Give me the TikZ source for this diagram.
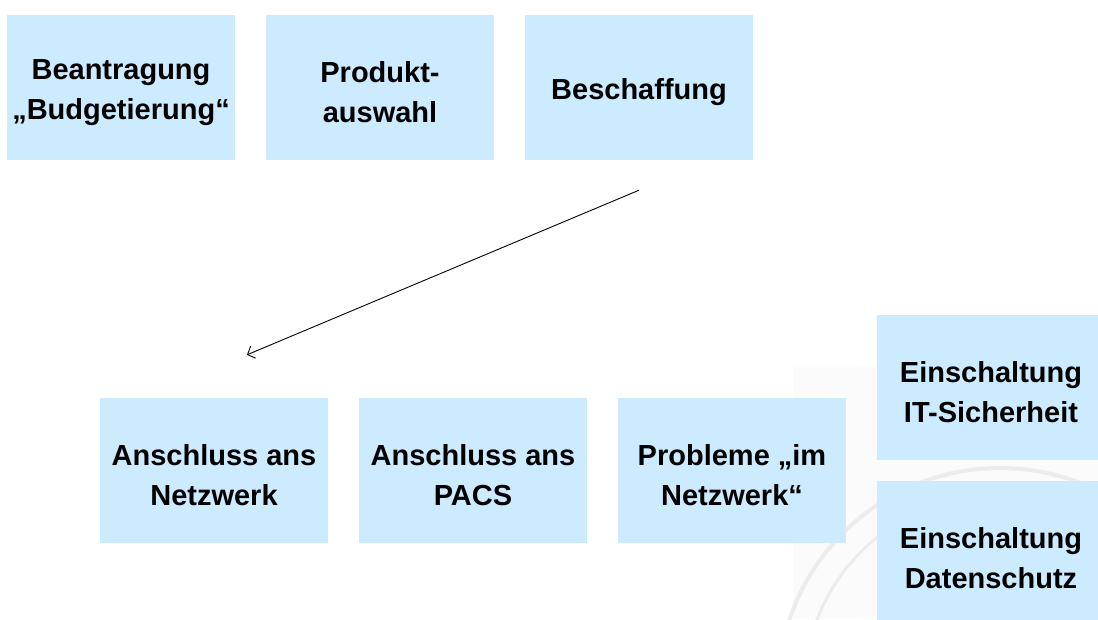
\documentclass[tikz,border=0pt]{standalone}
\usepackage{fontspec}
\setmainfont{Liberation Sans}
\usetikzlibrary{calc,arrows.meta}
\definecolor{boxblue}{RGB}{204,235,255}
\definecolor{sealgray}{RGB}{236,236,236}
\definecolor{hazegray}{RGB}{251,251,251}
% a taller first line pushes each text block a little below the box centre
\newcommand{\firstline}{\rule{0pt}{30pt}}
\tikzset{
  stepbox/.style={fill=boxblue, draw=none, minimum width=228pt, minimum height=145pt,
    inner sep=0pt, align=center,
    font=\fontsize{29pt}{40pt}\selectfont\bfseries},
  flow/.style={draw=black, line width=0.9pt, -{Straight Barb[length=6pt,width=13pt]}}
}
\begin{document}
\begin{tikzpicture}[x=1pt,y=-1pt]
  \useasboundingbox (0,0) rectangle (1098,619);
  \clip (0,0) rectangle (1098,619);
  % faint seal in the lower right corner
  \fill[hazegray] (793,367) rectangle (1098,619);
  \draw[sealgray, line width=4pt] (1000,690) circle[radius=222];
  \draw[sealgray, line width=3pt] (1000,690) circle[radius=196];
  % upper row
  \node[stepbox] (b1) at (121,87.5) {\firstline Beantragung\\„Budgetierung“};
  \node[stepbox] (b2) at (380,87.5) {\firstline Produkt-\\auswahl};
  \node[stepbox] (b3) at (639,87.5) {\firstline Beschaffung};
  % lower row
  \node[stepbox] (b4) at (214,470.5) {\firstline Anschluss ans\\Netzwerk};
  \node[stepbox] (b5) at (473,470.5) {\firstline Anschluss ans\\PACS};
  \node[stepbox] (b6) at (732,470.5) {\firstline Probleme „im\\Netzwerk“};
  % right column
  \node[stepbox] (b7) at (991,387.5) {\firstline Einschaltung\\IT-Sicherheit};
  \node[stepbox] (b8) at (991,553.5) {\firstline Einschaltung\\Datenschutz};
  % connector
  \coordinate (from) at ($(b3.south)+(0,30)$);
  \coordinate (to) at ($(b4.north)+(33,-43)$);
  \draw[flow] (from) -- (to);
\end{tikzpicture}
\end{document}
